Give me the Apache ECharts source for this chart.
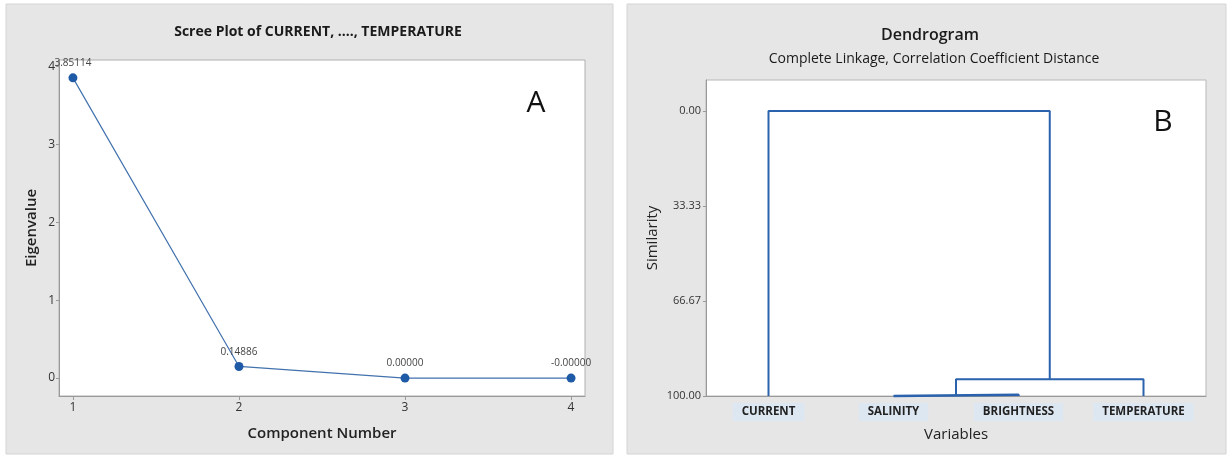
<!DOCTYPE html>
<html>
<head>
<meta charset="utf-8">
<script src="https://cdn.jsdelivr.net/npm/echarts@6/dist/echarts.min.js"></script>
<style>
html,body{margin:0;padding:0;background:#fff;}
#main{width:1230px;height:458px;}
</style>
</head>
<body>
<div id="main"></div>
<script>
// ---- Scree plot data ----
const componentNumbers = [1, 2, 3, 4];
const eigenvalues = [3.85114, 0.14886, 0.00000, -0.00000];
const eigenLabels = ['3.85114', '0.14886', '0.00000', '-0.00000'];
const screeYTicks = [0, 1, 2, 3, 4];

// ---- Dendrogram data ----
const leaves = ['CURRENT', 'SALINITY', 'BRIGHTNESS', 'TEMPERATURE'];
// node ids 0..3 are leaves, 4.. are clusters formed in order
const mergeLeft = [1, 4, 0];
const mergeRight = [2, 3, 5];
const mergeSimilarity = [99.6, 94.1, 0.0];
const similarityTicks = [0, 33.33, 66.67, 100];

const FONT = '"Open Sans", "Noto Sans", sans-serif';

// build dendrogram segments
const nodeX = leaves.map((_, i) => i);
const nodeH = leaves.map(() => 100);
const dendroSeries = [];
mergeLeft.forEach((l, k) => {
  const r = mergeRight[k];
  const h = mergeSimilarity[k];
  dendroSeries.push({
    type: 'line', xAxisIndex: 1, yAxisIndex: 1,
    data: [[nodeX[l], nodeH[l]], [nodeX[l], h], [nodeX[r], h], [nodeX[r], nodeH[r]]],
    symbol: 'none', silent: true, clip: false,
    lineStyle: { color: '#2a62ad', width: k === 0 ? 2.5 : 2 }
  });
  nodeX.push((nodeX[l] + nodeX[r]) / 2);
  nodeH.push(h);
});

const chart = echarts.init(document.getElementById('main'), null, { renderer: 'canvas' });
chart.setOption({
  backgroundColor: '#ffffff',
  animation: false,
  textStyle: { fontFamily: FONT },
  graphic: [
    { type: 'rect', z: -10, shape: { x: 6, y: 4, width: 607, height: 450 }, style: { fill: '#e6e6e6', stroke: '#d4d4d4', lineWidth: 1 } },
    { type: 'rect', z: -10, shape: { x: 627, y: 4, width: 599, height: 450 }, style: { fill: '#e6e6e6', stroke: '#d4d4d4', lineWidth: 1 } },
    { type: 'text', x: 318, y: 32, style: { text: 'Scree Plot of CURRENT, ...., TEMPERATURE', fontFamily: FONT, fontSize: 14, fontWeight: 'bold', fill: '#1a1a1a', align: 'center', verticalAlign: 'middle' } },
    { type: 'text', x: 536, y: 103, style: { text: 'A', fontFamily: FONT, fontSize: 30, fill: '#111', align: 'center', verticalAlign: 'middle' } },
    { type: 'text', x: 930, y: 35, style: { text: 'Dendrogram', fontFamily: FONT, fontSize: 16, fontWeight: 600, fill: '#1a1a1a', align: 'center', verticalAlign: 'middle' } },
    { type: 'text', x: 934, y: 59, style: { text: 'Complete Linkage, Correlation Coefficient Distance', fontFamily: FONT, fontSize: 14, fontWeight: 500, fill: '#1a1a1a', align: 'center', verticalAlign: 'middle' } },
    { type: 'text', x: 1163, y: 122, style: { text: 'B', fontFamily: FONT, fontSize: 30, fill: '#111', align: 'center', verticalAlign: 'middle' } }
  ],
  grid: [
    { left: 59, top: 60, width: 526, height: 336, show: true, backgroundColor: '#ffffff', borderColor: '#b0b0b0', borderWidth: 1 },
    { left: 706, top: 80, width: 500, height: 316, show: true, backgroundColor: '#ffffff', borderColor: '#b8b8b8', borderWidth: 1 }
  ],
  xAxis: [
    {
      gridIndex: 0, type: 'value', min: 0.916, max: 4.084,
      name: 'Component Number', nameLocation: 'middle', nameGap: 30,
      nameTextStyle: { fontSize: 15, fontWeight: 600, color: '#222', fontFamily: FONT },
      axisLine: { show: true, onZero: false, lineStyle: { color: '#999' } },
      axisTick: { show: true, length: 4, customValues: componentNumbers, lineStyle: { color: '#999' } },
      axisLabel: { customValues: componentNumbers, fontSize: 12, color: '#333', margin: 6 },
      splitLine: { show: false }
    },
    {
      gridIndex: 1, type: 'value', min: -0.5, max: 3.5,
      name: 'Variables', nameLocation: 'middle', nameGap: 31,
      nameTextStyle: { fontSize: 15, fontWeight: 500, color: '#222', fontFamily: FONT },
      axisLine: { show: true, onZero: false, lineStyle: { color: '#999' } },
      axisTick: { show: false },
      axisLabel: {
        customValues: [0, 1, 2, 3], formatter: v => leaves[Math.round(v)],
        fontSize: 11.5, fontWeight: 'bold', color: '#222', margin: 7,
        backgroundColor: '#dde7f2', padding: [3, 9, 3, 9]
      },
      splitLine: { show: false }
    }
  ],
  yAxis: [
    {
      gridIndex: 0, type: 'value', min: -0.23, max: 4.08,
      name: 'Eigenvalue', nameLocation: 'middle', nameGap: 20,
      nameTextStyle: { fontSize: 15, fontWeight: 600, color: '#222', fontFamily: FONT },
      axisLine: { show: true, onZero: false, lineStyle: { color: '#999' } },
      axisTick: { show: true, length: 3, customValues: screeYTicks, lineStyle: { color: '#999' } },
      axisLabel: { customValues: screeYTicks, fontSize: 12, color: '#333', margin: 4 },
      splitLine: { show: false }
    },
    {
      gridIndex: 1, type: 'value', min: -10.9, max: 100, inverse: true,
      name: 'Similarity', nameLocation: 'middle', nameGap: 46,
      nameTextStyle: { fontSize: 15, fontWeight: 500, color: '#222', fontFamily: FONT },
      axisLine: { show: true, onZero: false, lineStyle: { color: '#999' } },
      axisTick: { show: true, length: 3, customValues: similarityTicks, lineStyle: { color: '#999' } },
      axisLabel: { customValues: similarityTicks, formatter: v => v.toFixed(2), fontSize: 11, color: '#333', margin: 5 },
      splitLine: { show: false }
    }
  ],
  series: [
    {
      type: 'line', xAxisIndex: 0, yAxisIndex: 0,
      data: componentNumbers.map((c, i) => [c, eigenvalues[i]]),
      symbol: 'circle', symbolSize: 9,
      itemStyle: { color: '#1f5aa6' },
      lineStyle: { color: '#4272ad', width: 1.2 },
      label: {
        show: true, position: 'top', distance: 5,
        formatter: p => eigenLabels[p.dataIndex],
        fontSize: 10, color: '#444'
      }
    },
    ...dendroSeries
  ]
});
</script>
</body>
</html>
